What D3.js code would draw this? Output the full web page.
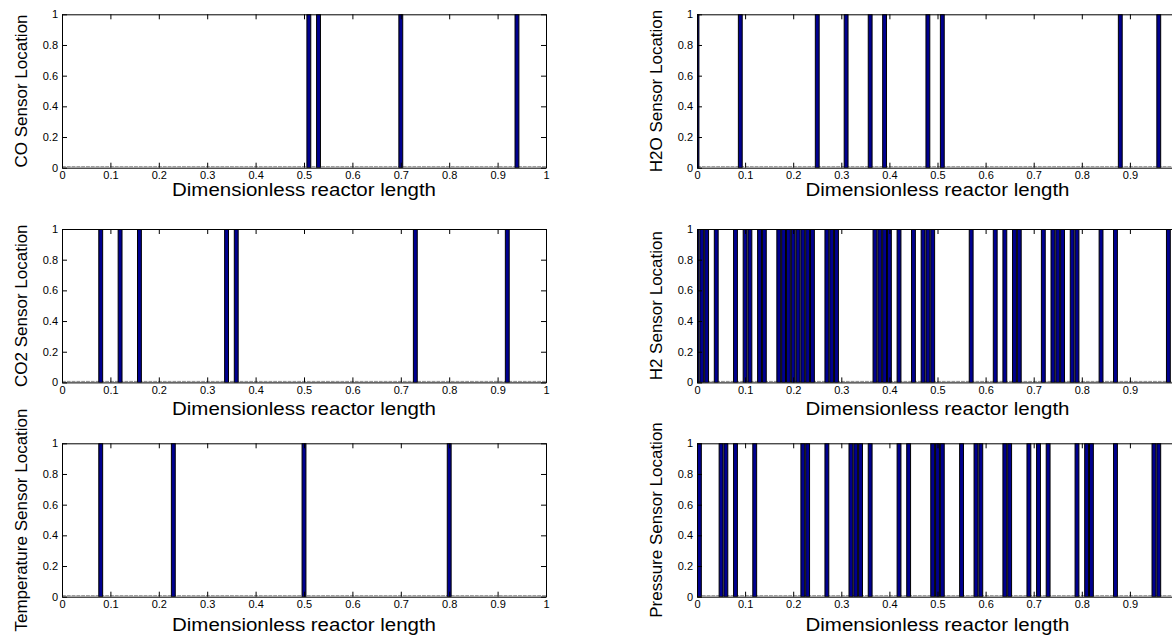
<!DOCTYPE html>
<html>
<head>
  <meta charset="utf-8">
  <title>Sensor locations</title>
  <style>
    body { margin: 0; background: #fff; }
    svg { display: block; font-family: "Liberation Sans", Arial, sans-serif; }
    .bar { fill: #00008f; stroke: #000; stroke-width: 1; }
    .axis path, .axis line { stroke: #000; }
    .axis text { font-size: 11px; fill: #000; }
  </style>
</head>
<body>
  <svg width="1172" height="639"></svg>
  <script src="https://cdnjs.cloudflare.com/ajax/libs/d3/7.8.5/d3.min.js"></script>
  <script>
    // tick labels
    const xTicks = [0, 0.1, 0.2, 0.3, 0.4, 0.5, 0.6, 0.7, 0.8, 0.9, 1];
    const yTicks = [0, 0.2, 0.4, 0.6, 0.8, 1];

    // sensor locations (bars of height 1)
    const coSensors = [0.51, 0.53, 0.70, 0.94];
    const co2Sensors = [0.08, 0.12, 0.16, 0.34, 0.36, 0.73, 0.92];
    const tempSensors = [0.08, 0.23, 0.50, 0.80];
    const h2oSensors = [0, 0.09, 0.25, 0.31, 0.36, 0.39, 0.48, 0.51, 0.88, 0.96];
    const h2Sensors = [0, 0.01, 0.02, 0.04, 0.08, 0.10, 0.11, 0.13, 0.14,
      0.17, 0.18, 0.19, 0.20, 0.21, 0.22, 0.23, 0.24, 0.27, 0.28, 0.29,
      0.37, 0.38, 0.39, 0.40, 0.42, 0.45, 0.47, 0.48, 0.49, 0.57, 0.62, 0.64,
      0.66, 0.67, 0.72, 0.74, 0.75, 0.76, 0.78, 0.79, 0.84, 0.87, 0.98];
    const pressureSensors = [0.005, 0.05, 0.06, 0.08, 0.12, 0.22, 0.23, 0.27,
      0.32, 0.33, 0.34, 0.36, 0.42, 0.44, 0.49, 0.50, 0.51, 0.55, 0.58, 0.59,
      0.64, 0.65, 0.69, 0.71, 0.73, 0.79, 0.81, 0.82, 0.87, 0.95, 0.96];

    const barWidth = 0.008; // 0.8 of the 0.01 grid step

    const panels = [
      {label: "CO Sensor Location", data: coSensors, col: 0, row: 0},
      {label: "CO2 Sensor Location", data: co2Sensors, col: 0, row: 1},
      {label: "Temperature Sensor Location", data: tempSensors, col: 0, row: 2},
      {label: "H2O Sensor Location", data: h2oSensors, col: 1, row: 0},
      {label: "H2 Sensor Location", data: h2Sensors, col: 1, row: 1},
      {label: "Pressure Sensor Location", data: pressureSensors, col: 1, row: 2}
    ];

    const colLeft = [62, 697];
    const colWidth = [484, 481];
    const rowTop = [14.3, 229, 443.3];
    const plotH = 153.4;
    const xLabelDy = [28.5, 33, 34];
    const yLabelX = [21, 656];
    const svgW = 1172;

    const svg = d3.select("svg");

    panels.forEach((p, i) => {
      const left = colLeft[p.col], top = rowTop[p.row];
      const w = colWidth[p.col];
      const x = d3.scaleLinear().domain([0, 1]).range([0, w]);
      const y = d3.scaleLinear().domain([0, 1]).range([plotH, 0]);

      const g = svg.append("g").attr("transform", "translate(" + left + "," + top + ")");

      g.append("clipPath").attr("id", "clip" + i)
        .append("rect").attr("width", w).attr("height", plotH);

      // zero-height bars show up as a dashed baseline
      g.append("line")
        .attr("x1", x(0)).attr("x2", x(1))
        .attr("y1", y(0) - 1).attr("y2", y(0) - 1)
        .attr("stroke", "#888").attr("stroke-dasharray", "3.9,0.9");

      g.append("g").attr("clip-path", "url(#clip" + i + ")")
        .selectAll("rect").data(p.data).enter().append("rect")
        .attr("class", "bar")
        .attr("x", d => x(d - barWidth / 2))
        .attr("width", x(barWidth) - x(0))
        .attr("y", y(1))
        .attr("height", y(0) - y(1));

      const fmt = d => d3.format("")(d);
      // ticks whose labels would fall off the page are left unlabelled
      const visTicks = xTicks.filter(t => left + x(t) + 4 < svgW);

      g.append("g").attr("class", "axis")
        .attr("transform", "translate(0," + plotH + ")")
        .call(d3.axisBottom(x).tickValues(visTicks).tickFormat(fmt).tickSizeInner(-5).tickSizeOuter(0).tickPadding(4));
      g.append("g").attr("class", "axis")
        .call(d3.axisTop(x).tickValues(visTicks).tickFormat("").tickSizeInner(-5).tickSizeOuter(0));
      g.append("g").attr("class", "axis")
        .call(d3.axisLeft(y).tickValues(yTicks).tickFormat(fmt).tickSizeInner(-5).tickSizeOuter(0).tickPadding(4));
      g.append("g").attr("class", "axis")
        .attr("transform", "translate(" + w + ",0)")
        .call(d3.axisRight(y).tickValues(yTicks).tickFormat("").tickSizeInner(-5).tickSizeOuter(0));

      g.selectAll(".axis").attr("font-family", null);

      g.append("text")
        .attr("x", w / 2).attr("y", plotH + xLabelDy[p.row])
        .attr("text-anchor", "middle")
        .attr("font-size", 17.5)
        .attr("textLength", 264).attr("lengthAdjust", "spacingAndGlyphs")
        .text("Dimensionless reactor length");

      svg.append("text")
        .attr("transform", "translate(" + (yLabelX[p.col] + 6) + "," + (top + plotH / 2) + ") rotate(-90)")
        .attr("text-anchor", "middle")
        .attr("font-size", 17)
        .text(p.label);
    });
  </script>
</body>
</html>
